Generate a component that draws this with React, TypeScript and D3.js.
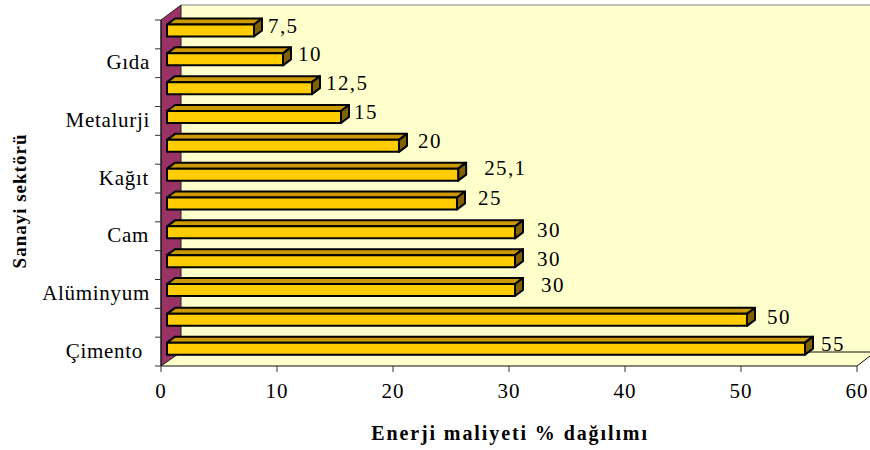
import React from "react";
import * as d3 from "d3";

// Sectors from bottom to top; only every second one carries a printed name.
const categories = ["Çimento", "s2", "Alüminyum", "s4", "Cam", "s6", "Kağıt", "s8", "Metalurji", "s10", "Gıda", "s12"];
const values = [55, 50, 30, 30, 30, 25, 25.1, 20, 15, 12.5, 10, 7.5];
const valueLabels = ["55", "50", "30", "30", "30", "25", "25,1", "20", "15", "12,5", "10", "7,5"];
const labelNudgesX = [8, 12, 18, 14, 14, 13, 18, 11, 5, 6, 7, 6];
const labelNudgesY = [2, 4, 0, 3, 3, 0, -1, 1, 0, 0, 0, 1];
const categoryNudgesX = [-7, 0, 0, 0, -1, 0, -1, 0, 0, 0, 0, 0];
const xTicks = [0, 10, 20, 30, 40, 50, 60];
const shownCategories = ["Çimento", "Alüminyum", "Cam", "Kağıt", "Metalurji", "Gıda"];

const FONT = "'Liberation Serif', 'Times New Roman', serif";

export default function App() {
  const x = d3.scaleLinear().domain([0, 60]).range([161, 857]);
  const y = d3.scaleBand<string>().domain(categories).range([366, 20]).paddingInner(0).paddingOuter(0);

  const left = x(0);
  const right = x(60);
  const bottom = 366;
  const top = 20;
  const depthX = 20;
  const depthY = 14;
  const barDX = 8;
  const barDY = 6;
  const barShift = 6;
  const faceH = 12;
  const pts = (p: number[][]) => p.map((q) => q.join(",")).join(" ");
  const tickEdges = y.step();

  return (
    <svg
      width={870}
      height={450}
      style={{ position: "absolute", left: 0, top: 0, background: "#fff" }}
      fontFamily={FONT}
    >
      {/* back wall and floor */}
      <polygon
        points={pts([[left + depthX, top - depthY - 1], [870, top - depthY - 1], [870, bottom - depthY], [left + depthX, bottom - depthY]])}
        fill="#FFFFCC"
      />
      <polygon
        points={pts([[left, bottom], [left + depthX, bottom - depthY], [870, bottom - depthY], [870, 356], [right, bottom]])}
        fill="#FFFFCC"
      />
      <line x1={left + depthX} x2={870} y1={top - depthY - 1} y2={top - depthY - 1} stroke="#808080" strokeWidth={1} />
      <line x1={left + depthX} x2={870} y1={bottom - depthY} y2={bottom - depthY} stroke="#111" strokeWidth={1} />
      <line x1={right} x2={870} y1={bottom} y2={356} stroke="#111" strokeWidth={1} />
      {/* side wall */}
      <polygon
        points={pts([[left, top], [left + depthX, top - depthY - 1], [left + depthX, bottom - depthY], [left, bottom]])}
        fill="#993366"
        stroke="#222"
        strokeWidth={1}
      />

      {/* axes */}
      <line x1={left} x2={right} y1={bottom} y2={bottom} stroke="#111" strokeWidth={1.2} />
      <line x1={left} x2={left} y1={top} y2={bottom} stroke="#111" strokeWidth={1} />
      {xTicks.map((t) => (
        <g key={t}>
          <line x1={x(t)} x2={x(t)} y1={bottom} y2={bottom + 6} stroke="#333" strokeWidth={1} />
          <text x={x(t)} y={398} textAnchor="middle" fontSize={21} letterSpacing={1}>
            {t}
          </text>
        </g>
      ))}
      {d3.range(categories.length + 1).map((i) => (
        <line key={i} x1={left - 6} x2={left} y1={bottom - i * tickEdges} y2={bottom - i * tickEdges} stroke="#333" strokeWidth={1} />
      ))}
      {categories.map((c, i) =>
        shownCategories.includes(c) ? (
          <text
            key={c}
            x={150 + categoryNudgesX[i]}
            y={(y(c) ?? 0) + tickEdges / 2 + 6}
            textAnchor="end"
            fontSize={21}
            letterSpacing={0.7}
          >
            {c}
          </text>
        ) : null
      )}

      {/* bars */}
      {categories.map((c, i) => {
        const x0 = left + barShift;
        const x1 = x(values[i]) + barShift;
        const y0 = (y(c) ?? 0) + 4.5 + (i < 2 ? 1 : 0);
        const y1 = y0 + faceH;
        return (
          <g key={c} stroke="#000" strokeWidth={2} strokeLinejoin="round">
            <polygon points={pts([[x0, y0], [x0 + barDX, y0 - barDY], [x1 + barDX, y0 - barDY], [x1, y0]])} fill="#CC9900" />
            <polygon points={pts([[x1, y0], [x1 + barDX, y0 - barDY], [x1 + barDX, y1 - barDY], [x1, y1]])} fill="#806000" />
            <rect x={x0} y={y0} width={x1 - x0} height={faceH} fill="#FFCC00" />
          </g>
        );
      })}

      {/* value labels */}
      {categories.map((c, i) => (
        <text
          key={c}
          x={x(values[i]) + barShift + barDX + labelNudgesX[i]}
          y={(y(c) ?? 0) + 12 + labelNudgesY[i]}
          fontSize={21}
          letterSpacing={1.4}
        >
          {valueLabels[i]}
        </text>
      ))}

      {/* axis titles */}
      <text x={510} y={440} textAnchor="middle" fontSize={20} fontWeight="bold" letterSpacing={1.9}>
        Enerji maliyeti % dağılımı
      </text>
      <text
        transform="translate(26,201) rotate(-90)"
        textAnchor="middle"
        fontSize={19}
        fontWeight="bold"
        letterSpacing={1}
      >
        Sanayi sektörü
      </text>
    </svg>
  );
}
